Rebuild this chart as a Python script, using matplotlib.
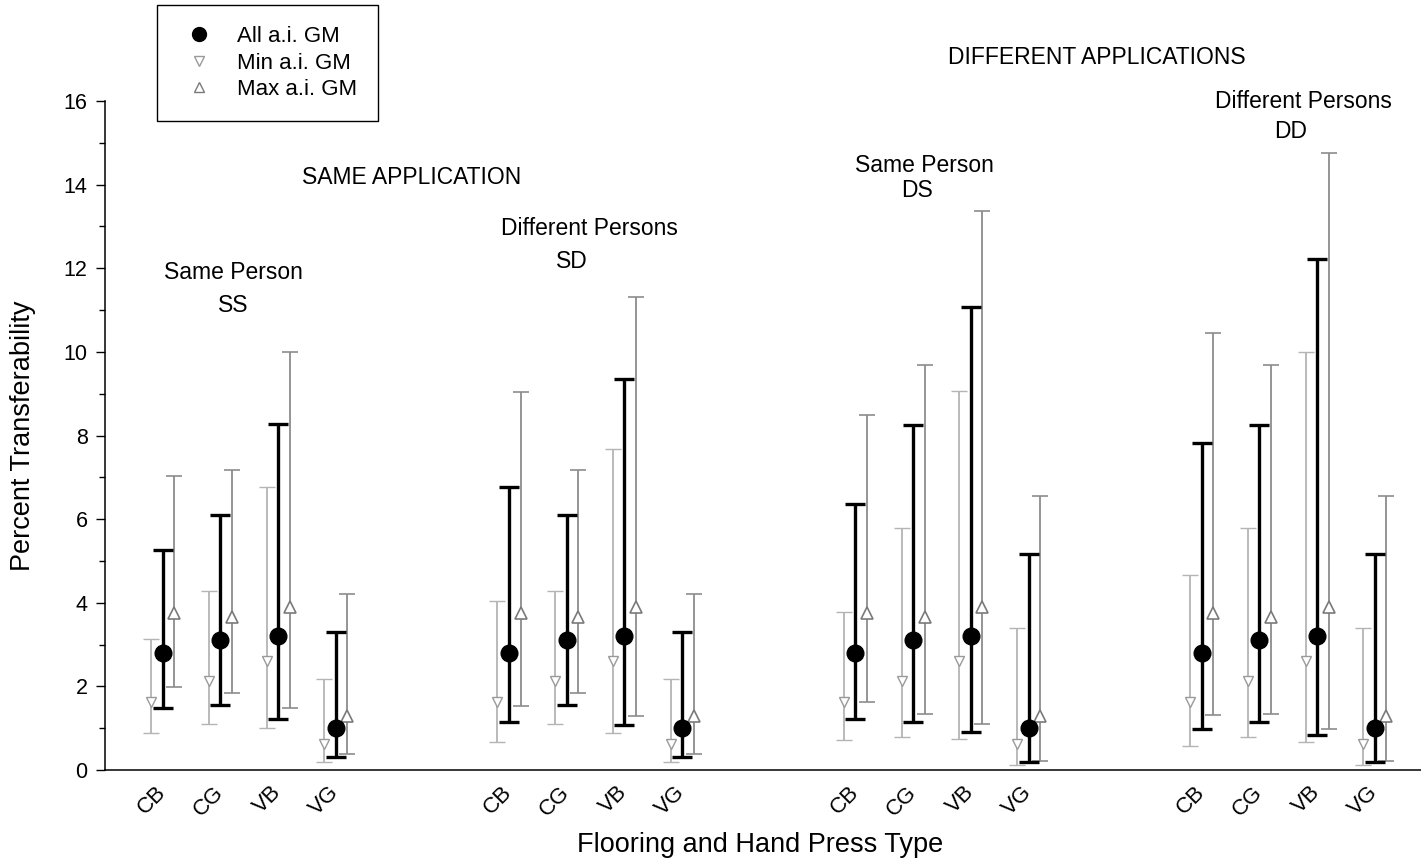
import numpy as np
import matplotlib
matplotlib.use("Agg")
import matplotlib.pyplot as plt
from matplotlib.lines import Line2D
from matplotlib.ticker import MultipleLocator

plt.rcParams['font.family'] = ['Liberation Sans', 'DejaVu Sans']

# ---------------------------------------------------------------------------
# data: 4 panels (SS, SD, DS, DD) x 4 flooring/press types
types = ["CB", "CG", "VB", "VG"]
groups = ["SS", "SD", "DS", "DD"]

all_gm = [2.80, 3.10, 3.20, 1.00] * 4
all_hi = [5.25, 6.10, 8.27, 3.30,
          6.76, 6.10, 9.36, 3.30,
          6.36, 8.26, 11.08, 5.16,
          7.82, 8.26, 12.21, 5.16]
all_lo = [1.48, 1.56, 1.23, 0.30,
          1.15, 1.56, 1.08, 0.30,
          1.22, 1.15, 0.91, 0.18,
          0.99, 1.15, 0.83, 0.18]

min_gm = [1.63, 2.13, 2.60, 0.63] * 4
min_hi = [3.13, 4.27, 6.78, 2.17,
          4.03, 4.27, 7.68, 2.17,
          3.79, 5.78, 9.07, 3.39,
          4.66, 5.78, 9.99, 3.39]
min_lo = [0.88, 1.09, 1.00, 0.19,
          0.68, 1.09, 0.88, 0.19,
          0.72, 0.78, 0.73, 0.12,
          0.58, 0.78, 0.68, 0.12]

max_gm = [3.76, 3.66, 3.89, 1.30] * 4
max_hi = [7.02, 7.17, 9.99, 4.20,
          9.04, 7.17, 11.32, 4.20,
          8.50, 9.69, 13.38, 6.56,
          10.46, 9.69, 14.75, 6.56]
max_lo = [1.99, 1.83, 1.48, 0.39,
          1.54, 1.83, 1.30, 0.39,
          1.63, 1.34, 1.10, 0.22,
          1.32, 1.34, 0.99, 0.22]

# ---------------------------------------------------------------------------
x = np.array([g * 6 + i + 1 for g in range(len(groups)) for i in range(len(types))], float)
OFF = 0.2


def yerr(mid, lo, hi):
    mid = np.asarray(mid); lo = np.asarray(lo); hi = np.asarray(hi)
    return np.vstack([mid - lo, hi - mid])


fig = plt.figure(figsize=(14.21, 8.59), dpi=100)
ax = fig.add_axes([105 / 1421, 89 / 859, 1316 / 1421, 669 / 859])

ax.errorbar(x - OFF, min_gm, yerr=yerr(min_gm, min_lo, min_hi), fmt='v',
            ms=7, mfc='white', mec='#9a9a9a', mew=1.0,
            ecolor='#b4b4b4', elinewidth=1.3, capsize=6, capthick=1.3, zorder=2)
ax.errorbar(x + OFF, max_gm, yerr=yerr(max_gm, max_lo, max_hi), fmt='^',
            ms=8, mfc='white', mec='#7a7a7a', mew=1.2,
            ecolor='#8c8c8c', elinewidth=1.3, capsize=6, capthick=1.3, zorder=2)
ax.errorbar(x, all_gm, yerr=yerr(all_gm, all_lo, all_hi), fmt='o',
            ms=12, color='black', ecolor='black', elinewidth=2.4,
            capsize=7.5, capthick=2.4, zorder=3)

ax.set_xlim(0, 22.8)
ax.set_ylim(0, 16)
ax.set_xticks(x)
ax.set_xticklabels(types * 4, rotation=45, ha='right', va='center',
                   rotation_mode='anchor', fontsize=16)
ax.tick_params(axis='x', length=0, pad=14)
ax.yaxis.set_major_locator(MultipleLocator(2))
ax.yaxis.set_minor_locator(MultipleLocator(1))
ax.tick_params(axis='y', which='major', length=6.5, width=1, labelsize=15.5, pad=6)
ax.tick_params(axis='y', which='minor', length=4.3, width=1)

for s in ['top', 'right']:
    ax.spines[s].set_visible(False)
for s in ['left', 'bottom']:
    ax.spines[s].set_linewidth(1.1)

ax.set_ylabel("Percent Transferability", fontsize=19.5, va='center')
ax.yaxis.set_label_coords(-82 / 1316, 0.5)
ax.set_xlabel("Flooring and Hand Press Type", fontsize=19.5, va='center')
ax.xaxis.set_label_coords((760 - 105) / 1316, -75 / 669)

fs = 16.5
ax.text(5.32, 14.16, "SAME APPLICATION", ha='center', va='center', fontsize=fs)
ax.text(2.22, 11.91, "Same Person", ha='center', va='center', fontsize=fs)
ax.text(2.22, 11.12, "SS", ha='center', va='center', fontsize=fs)
ax.text(8.39, 12.96, "Different Persons", ha='center', va='center', fontsize=fs)
ax.text(8.09, 12.15, "SD", ha='center', va='center', fontsize=fs)
ax.text(14.19, 14.45, "Same Person", ha='center', va='center', fontsize=fs)
ax.text(14.07, 13.85, "DS", ha='center', va='center', fontsize=fs)
ax.text(17.19, 17.05, "DIFFERENT APPLICATIONS", ha='center', va='center',
        fontsize=fs, clip_on=False)
ax.text(20.76, 16.0, "Different Persons", ha='center', va='center', fontsize=fs,
        clip_on=False)
ax.text(20.54, 15.26, "DD", ha='center', va='center', fontsize=fs)

handles = [
    Line2D([], [], ls='none', marker='o', ms=10, color='black'),
    Line2D([], [], ls='none', marker='v', ms=7, mfc='white', mec='#9a9a9a'),
    Line2D([], [], ls='none', marker='^', ms=7, mfc='white', mec='#7a7a7a'),
]
leg = fig.legend(handles, ["All a.i. GM", "Min a.i. GM", "Max a.i. GM"],
                 loc='upper left', bbox_to_anchor=(157 / 1421, 1 - 5 / 859),
                 fontsize=16, frameon=True, fancybox=False, framealpha=1,
                 edgecolor='black', borderpad=0.95, labelspacing=0.25,
                 handlelength=1.9, handletextpad=0.75, borderaxespad=0)
leg.get_frame().set_linewidth(1.0)

fig.savefig("out.png", dpi=100)
